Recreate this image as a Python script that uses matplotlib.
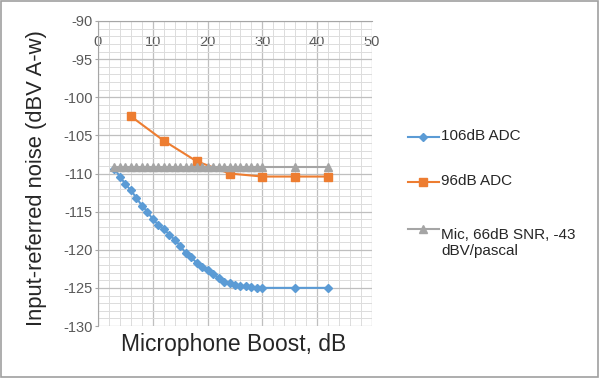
import matplotlib
matplotlib.use("Agg")
import matplotlib.pyplot as plt
from matplotlib.lines import Line2D
from matplotlib.patches import Rectangle
from matplotlib.ticker import MultipleLocator

plt.rcParams['font.family'] = ['Liberation Sans', 'DejaVu Sans']
plt.rcParams['axes.unicode_minus'] = False

# ---- data ----
adc106_x = list(range(3, 31)) + [36, 42]
adc106_y = [-109.4, -110.4, -111.4, -112.2, -113.2, -114.2, -115.0, -116.0, -116.7,
            -117.3, -118.0, -118.7, -119.5, -120.4, -121.0, -121.7, -122.2, -122.7,
            -123.2, -123.7, -124.2, -124.4, -124.6, -124.7, -124.8, -124.9, -125.0,
            -125.0, -125.0, -125.0]
adc96_x = [6, 12, 18, 24, 30, 36, 42]
adc96_y = [-102.5, -105.7, -108.4, -110.0, -110.4, -110.4, -110.4]
mic_x = list(range(3, 31)) + [36, 42]
mic_y = [-109.1] * len(mic_x)

series_labels = ['106dB ADC', '96dB ADC', 'Mic, 66dB SNR, -43\ndBV/pascal']
x_title = 'Microphone Boost, dB'
y_title = 'Input-referred noise (dBV A-w)'

c_blue = '#5B9BD5'
c_orange = '#ED7D31'
c_gray = '#A5A5A5'

W, H = 600, 380
fig = plt.figure(figsize=(6, 3.8), dpi=100)
ax = fig.add_axes([98 / W, 1 - 326 / H, (372 - 98) / W, (326 - 21) / H])

ax.plot(adc106_x, adc106_y, color=c_blue, lw=1.5, marker='D', ms=4, zorder=3)
ax.plot(adc96_x, adc96_y, color=c_orange, lw=1.5, marker='s', ms=6, zorder=4)
ax.plot(mic_x, mic_y, color=c_gray, lw=1.5, marker='^', ms=5.5, zorder=5)

ax.set_xlim(0, 50)
ax.set_ylim(-130, -90)
ax.xaxis.set_major_locator(MultipleLocator(10))
ax.xaxis.set_minor_locator(MultipleLocator(2))
ax.yaxis.set_major_locator(MultipleLocator(5))
ax.yaxis.set_minor_locator(MultipleLocator(1))
ax.grid(which='major', color='#BFBFBF', lw=0.9)
ax.grid(which='minor', color='#DCDCDC', lw=0.7)
ax.set_axisbelow(True)

for s in ['right', 'bottom']:
    ax.spines[s].set_visible(False)
ax.spines['top'].set_color('#A6A6A6')
ax.spines['left'].set_color('#A6A6A6')

ax.tick_params(axis='x', which='both', top=False, bottom=False, labeltop=True,
               labelbottom=False, pad=-24, labelsize=10.5, labelcolor='#595959')
ax.tick_params(axis='y', which='major', left=True, length=2.5, color='#A6A6A6',
               labelsize=10.5, labelcolor='#595959', pad=1.5)
ax.tick_params(axis='y', which='minor', left=False)

fig.text(234 / W, 1 - 345 / H, x_title, fontsize=16.5,
         color='#262626', ha='center', va='center')
fig.text(37 / W, 1 - 178 / H, y_title, fontsize=15.8, color='#262626',
         ha='center', va='center', rotation=90)

# legend (manual)
leg_y = [137, 182, 229]
leg_m = ['D', 's', '^']
leg_ms = [4, 6, 5.5]
leg_c = [c_blue, c_orange, c_gray]
for yy, lab, m, ms, c in zip(leg_y, series_labels, leg_m, leg_ms, leg_c):
    fy = 1 - yy / H
    fig.add_artist(Line2D([408 / W, 439 / W], [fy, fy], color=c, lw=1.5))
    fig.add_artist(Line2D([423 / W], [fy], color=c, marker=m, ms=ms, lw=0))
    fig.text(441 / W, fy + 0.003, lab, fontsize=11, color='#262626', ha='left',
             va='top' if '\n' in lab else 'center', linespacing=1.2)

# frame
fig.add_artist(Rectangle((0.5 / W, 1 - 377 / H), 597.5 / W, 376.5 / H,
                         transform=fig.transFigure, fill=False, ec='#A0A0A0', lw=1.2))

fig.savefig('out.png', dpi=100)
